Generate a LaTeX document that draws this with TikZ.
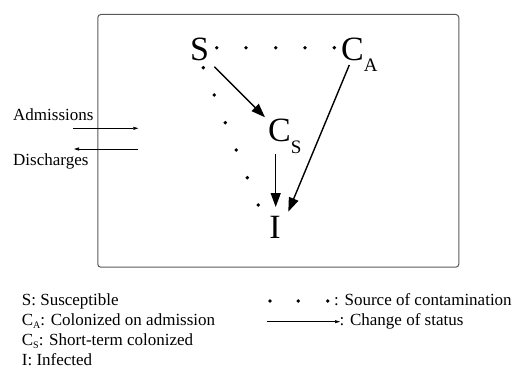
\documentclass[tikz,border=0pt]{standalone}
\usepackage{fontspec}
\setmainfont{Liberation Serif}
\usetikzlibrary{arrows.meta}
\begin{document}
\begin{tikzpicture}[x=1pt,y=-1pt,
  txt/.style={inner sep=0pt,font=\fontsize{17}{20}\selectfont},
  big/.style={inner sep=0pt,font=\fontsize{34}{36}\selectfont},
  dotmark/.style={fill=black,draw=none},
  bigarrow/.style={line width=1.4pt,-{Triangle[length=14pt,width=10pt]}},
  thinarrow/.style={line width=0.6pt,-{Triangle[length=5pt,width=3pt]}},
  frame/.style={draw=black!65,line width=1pt,rounded corners=3pt}]
\useasboundingbox (0,0) rectangle (519,369);
\node[frame,minimum width=361pt,minimum height=252.7pt,anchor=north west] (box) at (97.3,14) {};
% states
\node[big,anchor=base] (S) at (199.5,60) {S};
\node[big,anchor=base west] (CA) at (341,60) {C\raisebox{-11pt}{\fontsize{19}{19}\selectfont A}};
\node[big,anchor=base west] (CS) at (268,141) {C\raisebox{-12pt}{\fontsize{19}{19}\selectfont S}};
\node[big,anchor=base] (I) at (275,238) {I};
% source of contamination dots
\foreach \x/\y in {216.7/47.7,246/47.7,275.7/47.7,305/47.7,334.3/47.7,
  203.3/67.7,214.3/95,225.3/122.7,236.3/150,247.3/177.7,258.3/205}
  \fill[dotmark] (\x,\y) circle (1.9pt);
% change of status arrows
\coordinate (s1) at (214.3,66.7); \coordinate (cs1) at (265,117.3);
\coordinate (cs2) at (275.7,154.3); \coordinate (i1) at (275.7,207);
\coordinate (ca1) at (349.3,65); \coordinate (i2) at (288.3,211.7);
\draw[bigarrow] (s1) -- (cs1);
\draw[bigarrow] (cs2) -- (i1);
\draw[bigarrow] (ca1) -- (i2);
% admissions / discharges
\node[txt,anchor=base west] (adm) at (13,120) {Admissions};
\node[txt,anchor=base west] (dis) at (13,165) {Discharges};
\coordinate (a0) at (73.3,128.3); \coordinate (a1) at (138.3,128.3);
\coordinate (d0) at (138.3,149); \coordinate (d1) at (74,149);
\draw[thinarrow] (a0) -- (a1);
\draw[thinarrow] (d0) -- (d1);
% legend
\node[txt,anchor=base west] (l1) at (21.7,305.5) {S: Susceptible};
\node[txt,anchor=base west] (l2) at (21.7,325.5) {C\raisebox{-3pt}{\fontsize{10}{10}\selectfont A}: Colonized on admission};
\node[txt,anchor=base west] (l3) at (21.7,345.5) {C\raisebox{-3pt}{\fontsize{10}{10}\selectfont S}: Short-term colonized};
\node[txt,anchor=base west] (l4) at (21.7,365) {I: Infected};
\foreach \x in {270,298.3,327.7} \fill[dotmark] (\x,301) circle (1.9pt);
\node[txt,anchor=base west] (r1) at (334,305.5) {: Source of contamination};
\coordinate (la0) at (266.7,321.7); \coordinate (la1) at (340,321.7);
\draw[thinarrow] (la0) -- (la1);
\node[txt,anchor=base west] (r2) at (339.5,325.5) {: Change of status};
\end{tikzpicture}
\end{document}
